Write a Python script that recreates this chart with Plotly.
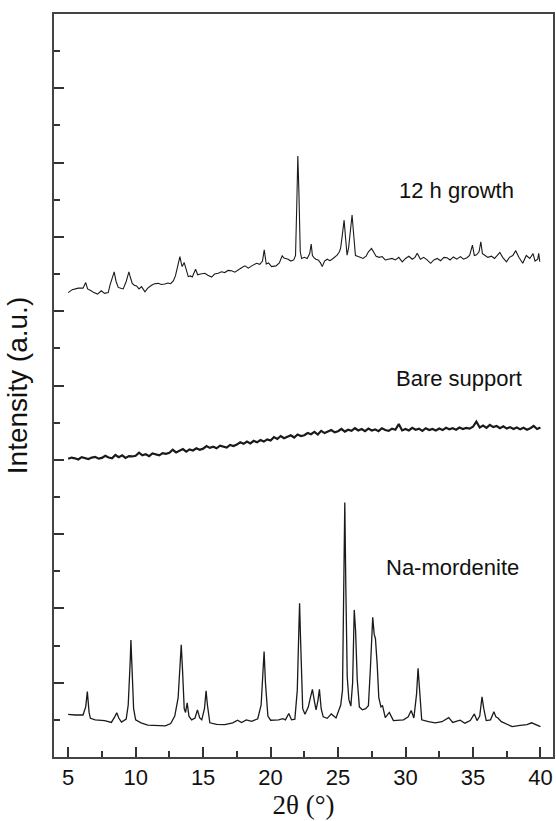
# Imports
import plotly.graph_objects as go

# Na-mordenite reference pattern (2theta, intensity a.u.)
na_x = [5.0, 5.5, 6.1, 6.3, 6.42, 6.55, 6.65, 7.0, 7.7, 8.0, 8.2, 8.45, 8.6, 8.75, 8.95,
        9.3, 9.45, 9.6, 9.65, 9.72, 9.85, 10.0, 10.4, 10.9, 11.5, 12.2, 12.6, 12.9, 13.15,
        13.3, 13.38, 13.48, 13.6, 13.7, 13.82, 13.95, 14.15, 14.4, 14.58, 14.75, 14.9,
        15.1, 15.22, 15.32, 15.5, 16.0, 16.6, 17.2, 17.55, 17.85, 18.2, 18.6, 19.05, 19.3,
        19.45, 19.52, 19.62, 19.8, 20.0, 20.6, 20.9, 21.1, 21.35, 21.55, 21.8, 21.98,
        22.1, 22.15, 22.22, 22.38, 22.55, 22.8, 22.95, 23.1, 23.25, 23.37, 23.5, 23.62,
        23.75, 23.9, 24.2, 24.5, 24.85, 25.1, 25.2, 25.33, 25.42, 25.5, 25.58, 25.68,
        25.8, 25.95, 26.08, 26.2, 26.3, 26.42, 26.58, 26.8, 27.05, 27.25, 27.4, 27.57,
        27.68, 27.77, 27.9, 28.02, 28.18, 28.3, 28.5, 28.8, 29.1, 29.5, 29.85, 30.2,
        30.42, 30.62, 30.82, 30.93, 31.05, 31.2, 31.7, 32.2, 32.7, 33.0, 33.2, 33.5,
        33.75, 34.05, 34.4, 34.8, 35.1, 35.3, 35.5, 35.67, 35.8, 35.98, 36.3, 36.55,
        36.7, 36.85, 37.1, 37.4, 37.9, 38.5, 39.0, 39.35, 39.6, 40.0]
na_y = [1.15, 1.13, 1.13, 1.35, 1.76, 1.2, 1.04, 1.0, 0.98, 0.95, 0.93, 1.08, 1.19, 1.05, 0.94,
        1.02, 1.4, 2.6, 3.15, 2.5, 1.3, 1.0, 0.92, 0.86, 0.86, 0.84, 0.9, 1.1, 1.6,
        2.6, 3.02, 2.3, 1.3, 1.2, 1.46, 1.1, 1.0, 1.05, 1.27, 1.05, 1.0,
        1.3, 1.78, 1.4, 0.92, 0.88, 0.87, 0.92, 0.99, 0.93, 1.0, 0.96, 1.03, 1.4,
        2.4, 2.84, 2.0, 1.1, 0.99, 1.0, 1.03, 1.0, 1.17, 1.0, 1.02, 1.8,
        3.5, 4.14, 3.2, 1.3, 1.15, 1.35, 1.6, 1.82, 1.5, 1.27, 1.5, 1.82,
        1.3, 1.08, 1.04, 1.16, 1.05, 1.3, 1.4, 1.8, 4.0, 6.85, 4.5, 2.16,
        1.55, 1.37, 2.0, 3.96, 3.4, 2.1, 1.35, 1.27, 1.3, 1.38, 2.4, 3.76,
        3.3, 3.19, 2.5, 1.6, 1.35, 1.38, 1.06, 1.2, 0.98, 1.0, 1.0, 1.08,
        1.25, 1.05, 1.7, 2.39, 1.7, 1.0, 0.95, 0.92, 0.95, 1.03, 1.06, 0.93,
        0.95, 0.99, 0.91, 0.98, 1.16, 0.98, 1.1, 1.62, 1.3, 0.98, 1.0, 1.22,
        1.08, 1.05, 0.95, 0.9, 0.82, 0.85, 0.87, 0.92, 0.88, 0.82]

# Bare support, scanned on a 0.25 deg grid from 5 to 40
bare_x = [round(5 + 0.25 * i, 2) for i in range(141)]
bare_y = [8.03, 8.06, 8.04, 8.01, 8.07, 8.05, 8.02, 8.06, 8.08, 8.03,
          8.05, 8.11, 8.06, 8.04, 8.13, 8.07, 8.12, 8.05, 8.10, 8.09,
          8.11, 8.19, 8.12, 8.15, 8.10, 8.17, 8.14, 8.12, 8.18, 8.16,
          8.19, 8.27, 8.20, 8.24, 8.29, 8.22, 8.28, 8.25, 8.31, 8.27,
          8.30, 8.37, 8.32, 8.35, 8.31, 8.38, 8.36, 8.33, 8.40, 8.37,
          8.41, 8.47, 8.43, 8.49, 8.44, 8.51, 8.47, 8.53, 8.49, 8.55,
          8.52, 8.61, 8.56, 8.64, 8.58, 8.62, 8.66, 8.60, 8.68, 8.64,
          8.66, 8.72, 8.69, 8.75, 8.68, 8.78, 8.72, 8.76, 8.80, 8.74,
          8.77, 8.83, 8.76, 8.81, 8.78, 8.85, 8.79, 8.83, 8.77, 8.84,
          8.79, 8.82, 8.77, 8.85, 8.80, 8.78, 8.84, 8.81, 8.96, 8.79,
          8.83, 8.79, 8.86, 8.81, 8.84, 8.78, 8.85, 8.80, 8.83, 8.79,
          8.84, 8.80, 8.86, 8.82, 8.85, 8.81, 8.87, 8.83, 8.86, 8.84,
          8.89, 9.03, 8.87, 8.92, 8.86, 8.94, 8.88, 8.91, 8.85, 8.90,
          8.84, 8.88, 8.83, 8.87, 8.82, 8.86, 8.81, 8.85, 8.91, 8.83,
          8.87]

# 12 h growth membrane
g12_x = [5.0, 5.3, 5.75, 6.1, 6.3, 6.44, 6.7, 6.9, 7.18, 7.45, 7.7, 7.97, 8.1, 8.25, 8.41,
         8.55, 8.71, 8.9, 9.08, 9.3, 9.5, 9.62, 9.75, 9.9, 10.07, 10.25, 10.44, 10.69, 10.9,
         11.18, 11.4, 11.67, 11.9, 12.17, 12.4, 12.6, 12.8, 12.95, 13.1, 13.28, 13.38, 13.45,
         13.6, 13.75, 13.9, 14.05, 14.2, 14.44, 14.6, 14.8, 15.13, 15.35, 15.63, 15.85,
         16.12, 16.35, 16.61, 16.85, 17.11, 17.35, 17.6, 17.85, 18.1, 18.35, 18.6, 18.96,
         19.2, 19.4, 19.53, 19.68, 19.85, 20.07, 20.4, 20.65, 20.86, 21.0, 21.3, 21.5,
         21.72, 21.85, 21.95, 22.02, 22.1, 22.2, 22.3, 22.5, 22.71, 22.9, 23.01, 23.1,
         23.2, 23.35, 23.53, 23.7, 23.83, 24.0, 24.2, 24.4, 24.56, 24.75, 24.93, 25.1,
         25.19, 25.3, 25.45, 25.55, 25.67, 25.78, 25.9, 26.04, 26.15, 26.29, 26.45, 26.66,
         26.85, 27.08, 27.25, 27.48, 27.65, 27.82, 28.05, 28.27, 28.5, 28.76, 29.0, 29.25,
         29.5, 29.76, 30.0, 30.25, 30.5, 30.7, 30.87, 31.1, 31.35, 31.6, 31.86, 32.1,
         32.35, 32.6, 32.85, 33.08, 33.3, 33.55, 33.8, 34.07, 34.3, 34.55, 34.75, 34.96,
         35.1, 35.27, 35.45, 35.58, 35.7, 35.9, 36.1, 36.37, 36.6, 36.8, 36.99, 37.2,
         37.48, 37.7, 37.95, 38.17, 38.4, 38.69, 38.95, 39.21, 39.45, 39.6, 39.8, 39.87, 39.95]
g12_y = [12.5, 12.58, 12.62, 12.62, 12.77, 12.6, 12.55, 12.5, 12.46, 12.55, 12.48, 12.5, 12.7, 12.85, 13.06,
         12.8, 12.64, 12.62, 12.6, 12.8, 13.06, 12.9, 12.75, 12.7, 12.68, 12.6, 12.66, 12.52, 12.62,
         12.7, 12.74, 12.75, 12.72, 12.73, 12.76, 12.74, 12.82, 12.95, 13.2, 13.47, 13.3, 13.2,
         13.31, 13.1, 12.93, 12.95, 12.92, 13.13, 12.98, 13.0, 13.02, 12.97, 12.92, 13.0,
         13.02, 13.06, 13.04, 13.1, 13.09, 13.05, 13.12, 13.17, 13.22, 13.16, 13.22, 13.29,
         13.26, 13.35, 13.65, 13.27, 13.3, 13.2, 13.22, 13.3, 13.49, 13.43, 13.4, 13.35,
         13.38, 13.5, 15.0, 16.18, 15.2, 13.6, 13.42, 13.45, 13.42, 13.55, 13.81, 13.5,
         13.45, 13.4, 13.38, 13.3, 13.2, 13.35, 13.4, 13.36, 13.4, 13.45, 13.51, 13.6,
         13.7, 14.0, 14.45, 14.0, 13.51, 13.7, 14.1, 14.59, 14.1, 13.5, 13.48, 13.45,
         13.42, 13.48, 13.6, 13.69, 13.58, 13.48, 13.45, 13.47, 13.38, 13.4, 13.42, 13.38,
         13.45, 13.33, 13.42, 13.48, 13.4, 13.45, 13.56, 13.4, 13.45, 13.38, 13.29, 13.38,
         13.42, 13.36, 13.45, 13.44, 13.38, 13.46, 13.4, 13.47, 13.4, 13.44, 13.5, 13.78,
         13.5, 13.52, 13.6, 13.87, 13.55, 13.5, 13.45, 13.48, 13.42, 13.5, 13.58, 13.45,
         13.33, 13.45, 13.5, 13.63, 13.45, 13.29, 13.5, 13.42, 13.55, 13.35, 13.4, 13.56, 13.33]

# Sample labels
labels = ['12 h growth', 'Bare support', 'Na-mordenite']
label_x = [33.8, 34.0, 33.45]
label_y = [15.26, 10.2, 5.09]

fig = go.Figure()

for xs, ys, w in [(na_x, na_y, 1.3), (bare_x, bare_y, 2.2), (g12_x, g12_y, 1.1)]:
    fig.add_trace(go.Scatter(x=xs, y=ys, mode='lines',
                             line=dict(color='#1a1a1a', width=w),
                             showlegend=False))

for txt, lx, ly in zip(labels, label_x, label_y):
    fig.add_annotation(x=lx, y=ly, text=txt, showarrow=False,
                       font=dict(family='Liberation Sans, Arial', size=22, color='#111'))

fig.update_layout(width=556, height=821,
                  margin=dict(l=54, r=3, t=14, b=64),
                  plot_bgcolor='white', paper_bgcolor='white',
                  xaxis=dict(range=[3.95, 40.93], automargin=False,
                             tickvals=[5, 10, 15, 20, 25, 30, 35, 40],
                             ticks='inside', ticklen=10, tickwidth=1.5, tickcolor='#333',
                             minor=dict(dtick=2.5, tick0=0, ticks='inside', ticklen=6,
                                        tickwidth=1.5, tickcolor='#333'),
                             showgrid=False, zeroline=False,
                             showline=True, linewidth=1.8, linecolor='#444', mirror=True,
                             tickfont=dict(family='Liberation Sans, Arial', size=22, color='#111'),
                             title=dict(text='2θ (°)', standoff=6,
                                        font=dict(family='Liberation Serif, Times New Roman',
                                                  size=27, color='#111'))),
                  yaxis=dict(range=[0, 20], dtick=2, tick0=0, automargin=False,
                             ticks='inside', ticklen=10, tickwidth=1.5, tickcolor='#333',
                             minor=dict(dtick=1, tick0=0, ticks='inside', ticklen=6,
                                        tickwidth=1.5, tickcolor='#333'),
                             showticklabels=False,
                             showgrid=False, zeroline=False,
                             showline=True, linewidth=1.8, linecolor='#444', mirror=True,
                             title=dict(text='Intensity (a.u.)', standoff=16,
                                        font=dict(family='Liberation Sans, Arial',
                                                  size=28, color='#111'))))

# Drop the default page margin so the figure sits at the window's corner
fig.write_html('out.html', config={'displayModeBar': False},
               post_script="document.body.style.margin='0';")
